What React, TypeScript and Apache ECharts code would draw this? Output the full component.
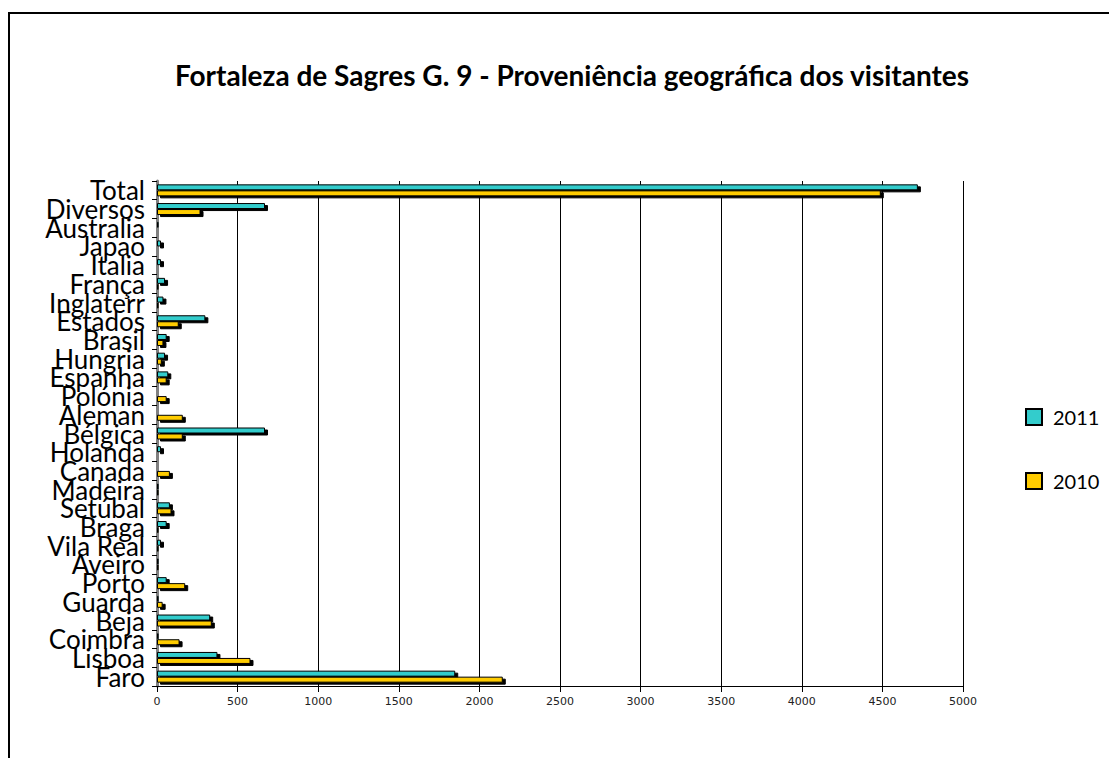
import React, { useEffect, useRef } from "react";
import * as echarts from "echarts";

const categories = [
  "Total", "Diversos", "Australia", "Japao", "Italia", "França", "Inglaterr",
  "Estados", "Brasil", "Hungria", "Espanha", "Polónia", "Aleman", "Bélgica",
  "Holanda", "Canada", "Madeira", "Setúbal", "Braga", "Vila Real", "Aveiro",
  "Porto", "Guarda", "Beja", "Coimbra", "Lisboa", "Faro",
];

const values2011 = [
  4720, 670, 10, 25, 25, 50, 40, 300, 60, 50, 70, 5, 5, 670, 25, 5, 10, 80, 60,
  25, 10, 60, 10, 330, 10, 375, 1850,
];

const values2010 = [
  4490, 270, 5, 5, 5, 10, 10, 135, 40, 30, 60, 60, 160, 160, 5, 80, 10, 90, 10,
  10, 10, 175, 35, 340, 140, 580, 2145,
];

const xTicks = { min: 0, max: 5000, interval: 500 };

const TITLE = "Fortaleza de Sagres G. 9 - Proveniência geográfica dos visitantes";

export default function App() {
  const ref = useRef<HTMLDivElement>(null);

  useEffect(() => {
    document.body.style.margin = "0";
    if (!ref.current) return;
    const chart = echarts.init(ref.current, null, { renderer: "svg" });
    const barStyle = (color: string) => ({
      color,
      borderColor: "#000",
      borderWidth: 1,
      shadowColor: "#000",
      shadowBlur: 0,
      shadowOffsetX: 3,
      shadowOffsetY: 2,
    });
    chart.setOption({
      animation: false,
      backgroundColor: "#fff",
      title: {
        text: TITLE,
        left: 567,
        top: 56,
        textAlign: "center",
        textStyle: {
          fontFamily: "Lato",
          fontWeight: "bold",
          fontSize: 28,
          color: "#000",
        },
      },
      graphic: [
        {
          type: "rect",
          shape: { x: 9, y: 13, width: 1200, height: 900 },
          style: { fill: "none", stroke: "#000", lineWidth: 2 },
          silent: true,
        },
      ],
      legend: {
        orient: "vertical",
        left: 1025,
        top: 407,
        padding: 0,
        itemWidth: 16,
        itemHeight: 16,
        itemGap: 44,
        icon: "rect",
        data: ["2011", "2010"],
        textStyle: { fontFamily: "Lato", fontSize: 20, color: "#000", padding: [0, 0, 0, 6] },
      },
      grid: { left: 157, right: 146, top: 181, bottom: 72, containLabel: false },
      xAxis: {
        type: "value",
        min: xTicks.min,
        max: xTicks.max,
        interval: xTicks.interval,
        axisLine: { show: true, lineStyle: { color: "#000", width: 1 } },
        axisTick: { show: true, length: 6, lineStyle: { color: "#000" } },
        axisLabel: {
          fontFamily: "DejaVu Sans",
          fontSize: 11,
          color: "#222",
          margin: 10,
          formatter: (v: number) => String(v),
        },
        splitLine: { show: true, lineStyle: { color: "#000", width: 1 } },
      },
      yAxis: {
        type: "category",
        data: categories,
        inverse: true,
        axisLine: { show: true, lineStyle: { color: "#808080", width: 3 } },
        axisTick: { show: true, length: 5, lineStyle: { color: "#000" } },
        axisLabel: {
          fontFamily: "Lato",
          fontSize: 26,
          color: "#000",
          margin: 12,
          interval: 0,
          lineHeight: 18,
        },
      },
      series: [
        {
          name: "2011",
          type: "bar",
          data: values2011,
          barWidth: 6,
          barGap: "0%",
          itemStyle: barStyle("#33CCCC"),
        },
        {
          name: "2010",
          type: "bar",
          data: values2010,
          barWidth: 6,
          barGap: "0%",
          itemStyle: barStyle("#FFCC00"),
        },
      ],
    });
    return () => chart.dispose();
  }, []);

  return <div ref={ref} style={{ width: 1109, height: 758 }} />;
}
